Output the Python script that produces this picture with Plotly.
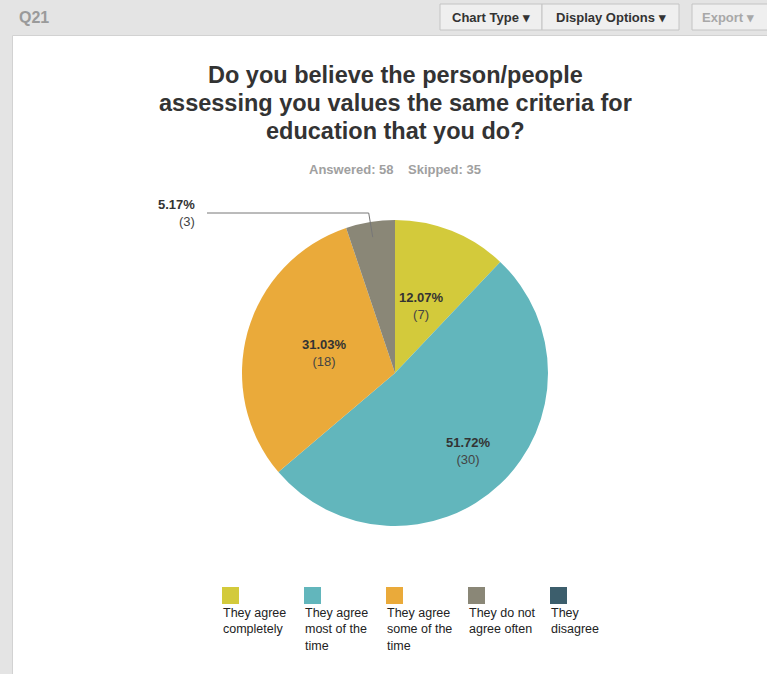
import math
import plotly.graph_objects as go

# ---- survey data -------------------------------------------------------
question = "Q21"
title_lines = [
    "Do you believe the person/people",
    "assessing you values the same criteria for",
    "education that you do?",
]
answered = 58
skipped = 35

categories = [
    "They agree completely",
    "They agree most of the time",
    "They agree some of the time",
    "They do not agree often",
    "They disagree",
]
legend_labels = [
    "They agree<br>completely",
    "They agree<br>most of the<br>time",
    "They agree<br>some of the<br>time",
    "They do not<br>agree often",
    "They<br>disagree",
]
counts = [7, 30, 18, 3, 0]
colors = ["#d3ca3b", "#62b6bc", "#eaaa3a", "#8a8777", "#3c5e6c"]

# radial position of each inside label, as a fraction of the radius
label_radius = [0.47, 0.70, 0.48, 0.0, 0.0]

# ---- page geometry (pixels) ---------------------------------------------
W, H = 767, 674
FONT = "Liberation Sans, Arial, Helvetica, sans-serif"


def px(x):
    return x / W


def py(y):
    return 1 - y / H


total = sum(counts)
pcts = [c / total * 100 for c in counts]

# pie placement
cx, cy, R = 395, 373, 153

shapes = []
annotations = []

# page chrome: grey background, white panel, toolbar buttons
shapes.append(dict(type="rect", xref="paper", yref="paper", x0=0, x1=1, y0=0, y1=1,
                   fillcolor="#e4e4e4", line=dict(width=0), layer="below"))
shapes.append(dict(type="rect", xref="paper", yref="paper", x0=px(12.5), x1=px(780),
                   y0=py(700), y1=py(35.5), fillcolor="#ffffff",
                   line=dict(color="#d2d2d2", width=1), layer="below"))

annotations.append(dict(text="<b>" + question + "</b>", xref="paper", yref="paper",
                        x=px(17), y=py(17), xanchor="left", yanchor="middle",
                        showarrow=False, font=dict(family=FONT, size=16, color="#9a9a9a")))

buttons = [
    ("Chart Type ▾", 440, 542, 491, "#333333"),
    ("Display Options ▾", 542, 679, 611, "#333333"),
    ("Export ▾", 692, 775, 728, "#a8a8a8"),
]
for label, x0, x1, tx, col in buttons:
    shapes.append(dict(type="rect", xref="paper", yref="paper", x0=px(x0), x1=px(x1),
                       y0=py(30), y1=py(4), fillcolor="#efefef",
                       line=dict(color="#c4c4c4", width=1), layer="below"))
    annotations.append(dict(text="<b>" + label + "</b>", xref="paper", yref="paper",
                            x=px(tx), y=py(17), xanchor="center", yanchor="middle",
                            showarrow=False, font=dict(family=FONT, size=13, color=col)))

# title (one annotation per line for tight line spacing) and response counts
for i, line in enumerate(title_lines):
    annotations.append(dict(text="<b>" + line + "</b>", xref="paper", yref="paper",
                            x=px(395), y=py(75 + 28 * i), xanchor="center",
                            yanchor="middle", showarrow=False,
                            font=dict(family=FONT, size=23.5, color="#333333")))
annotations.append(dict(text=f"<b>Answered: {answered}&nbsp;&nbsp;&nbsp;&nbsp;Skipped: {skipped}</b>",
                        xref="paper", yref="paper", x=px(395), y=py(169), xanchor="center",
                        yanchor="middle", showarrow=False,
                        font=dict(family=FONT, size=13, color="#a0a0a0")))

# slice labels: inside for wide slices, leader line for the narrow one
cum = 0.0
for c, p, rf in zip(counts, pcts, label_radius):
    mid = (cum + p / 2) / 100 * 2 * math.pi
    cum += p
    if c == 0:
        continue
    label = f"<b>{p:.2f}%</b><br><span style='color:#444444'>({c})</span>"
    if p < 8:
        sx = cx + R * 0.9 * math.sin(mid)
        sy = cy - R * 0.9 * math.cos(mid)
        ky = 213
        kx = sx - 4
        shapes.append(dict(type="path", xref="paper", yref="paper",
                           path=f"M {px(sx)},{py(sy)} L {px(kx)},{py(ky)} L {px(207)},{py(ky)}",
                           line=dict(color="#777777", width=1)))
        annotations.append(dict(text=label, xref="paper", yref="paper",
                                x=px(197), y=py(ky), xanchor="right", yanchor="middle",
                                align="right", showarrow=False,
                                font=dict(family=FONT, size=13, color="#333333")))
    else:
        lx = cx + R * rf * math.sin(mid)
        ly = cy - R * rf * math.cos(mid)
        annotations.append(dict(text=label, xref="paper", yref="paper",
                                x=px(lx), y=py(ly), xanchor="center", yanchor="middle",
                                align="center", showarrow=False,
                                font=dict(family=FONT, size=13, color="#333333")))

fig = go.Figure(go.Pie(
    labels=categories,
    values=counts,
    textinfo="none",
    sort=False,
    direction="clockwise",
    rotation=0,
    marker=dict(colors=colors, line=dict(color="#ffffff", width=0)),
    hoverinfo="label+value+percent",
    showlegend=False,
    domain=dict(x=[px(cx - R), px(cx + R)], y=[py(cy + R), py(cy - R)]),
))

# legend: colour squares with wrapped captions underneath
for i, (lab, col) in enumerate(zip(legend_labels, colors)):
    lx = 222 + i * 82
    shapes.append(dict(type="rect", xref="paper", yref="paper", x0=px(lx), x1=px(lx + 17),
                       y0=py(604), y1=py(587), fillcolor=col, line=dict(width=0)))
    annotations.append(dict(text=lab, xref="paper", yref="paper", x=px(lx - 1), y=py(604),
                            xanchor="left", yanchor="top", align="left", showarrow=False,
                            font=dict(family=FONT, size=12.5, color="#222222")))

fig.update_layout(
    width=W, height=H,
    margin=dict(l=0, r=0, t=0, b=0),
    paper_bgcolor="#ffffff",
    shapes=shapes,
    annotations=annotations,
)

fig.write_html("out.html")
